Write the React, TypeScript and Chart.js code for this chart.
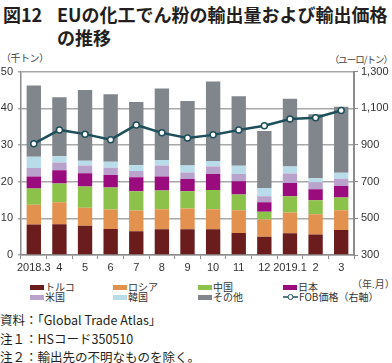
import React, { useEffect, useRef } from "react";
import { Chart, registerables } from "chart.js";

Chart.register(...registerables);

const categories = ["2018.3", "4", "5", "6", "7", "8", "9", "10", "11", "12", "2019.1", "2", "3"];
const turkey = [8.3, 8.4, 8.0, 7.1, 6.5, 7.0, 7.0, 7.0, 6.0, 5.0, 5.9, 5.6, 6.8];
const russia = [5.4, 6.0, 4.9, 5.3, 5.6, 5.5, 5.7, 5.5, 6.2, 4.7, 5.7, 5.5, 5.4];
const china = [4.4, 5.1, 5.8, 6.0, 5.3, 5.1, 4.7, 5.2, 4.3, 2.1, 4.4, 3.8, 3.5];
const japan = [3.3, 3.6, 3.6, 3.4, 3.8, 3.8, 3.3, 4.4, 3.6, 2.6, 3.6, 3.0, 3.1];
const usa = [2.3, 2.1, 2.1, 2.0, 1.7, 3.0, 1.8, 2.0, 2.0, 1.6, 2.6, 1.9, 2.0];
const korea = [3.1, 1.7, 1.3, 1.6, 1.6, 1.5, 1.9, 1.5, 2.2, 2.3, 1.9, 1.1, 1.6];
const others = [19.4, 16.1, 19.3, 18.4, 17.2, 19.5, 17.6, 21.7, 19.0, 15.5, 18.5, 17.5, 18.0];
const fobPrice = [907, 982, 959, 929, 1009, 966, 938, 955, 982, 1005, 1041, 1048, 1088];

const seriesNames = ["トルコ", "ロシア", "中国", "日本", "米国", "韓国", "その他"];
const seriesColors = ["#6b1c1c", "#e3914f", "#8cc24a", "#9a0b7d", "#b9a2cc", "#b9dcea", "#80868b"];
const lineName = "FOB価格（右軸）";
const lineColor = "#1e4f5b";

const tickFont = { family: "'Liberation Sans Narrow', 'Arial Narrow', 'Liberation Sans', sans-serif", size: 11 };
const jp = "'Noto Sans CJK JP', 'Noto Sans', sans-serif";

export default function App() {
  const ref = useRef<HTMLCanvasElement | null>(null);
  useEffect(() => {
    if (!ref.current) return;
    const series = [turkey, russia, china, japan, usa, korea, others];
    const chart = new Chart(ref.current, {
      type: "bar",
      data: {
        labels: categories,
        datasets: [
          {
            type: "line",
            label: lineName,
            data: fobPrice,
            yAxisID: "y1",
            borderColor: lineColor,
            borderWidth: 2.5,
            pointRadius: 3,
            pointBackgroundColor: "#ffffff",
            pointBorderColor: lineColor,
            pointBorderWidth: 1.5,
            tension: 0,
            order: 0,
          } as any,
          ...series.map((d, i) => ({
            type: "bar" as const,
            label: seriesNames[i],
            data: d,
            backgroundColor: seriesColors[i],
            yAxisID: "y",
            order: 1,
            categoryPercentage: 1,
            barPercentage: 0.56,
          })),
        ],
      },
      options: {
        animation: false,
        responsive: false,
        maintainAspectRatio: false,
        layout: { padding: { top: 9, left: 0, right: 0, bottom: 0 } },
        plugins: { legend: { display: false }, tooltip: { enabled: false } },
        scales: {
          x: {
            stacked: true,
            offset: true,
            grid: { display: true, drawOnChartArea: false, drawTicks: true, tickLength: 4, color: "#8c8c8c", offset: true },
            border: { color: "#8c8c8c", width: 1.5 },
            ticks: { font: tickFont, color: "#333", padding: 2, maxRotation: 0, autoSkip: false },
            afterFit: (s: any) => { s.height = 20; },
          },
          y: {
            stacked: true,
            position: "left",
            min: 0,
            max: 50,
            ticks: { stepSize: 10, font: tickFont, color: "#333", padding: 5 },
            grid: { color: "#a8a8a8", lineWidth: 1.5, drawTicks: true, tickLength: 3 },
            border: { color: "#8c8c8c", width: 1.5 },
            afterFit: (s: any) => { s.width = 21; },
          },
          y1: {
            position: "right",
            min: 300,
            max: 1300,
            ticks: {
              stepSize: 200,
              font: tickFont,
              color: "#333",
              padding: 3,
              callback: (v: any) => Number(v).toLocaleString("en-US"),
            },
            grid: { drawOnChartArea: false, drawTicks: true, tickLength: 4, color: "#8c8c8c" },
            border: { color: "#8c8c8c", width: 2 },
            afterFit: (s: any) => { s.width = 38; },
          },
        },
      },
    });
    return () => chart.destroy();
  }, []);

  const txt: React.CSSProperties = { position: "absolute", whiteSpace: "nowrap", fontFamily: jp, color: "#231f20" };
  const legendItems = [
    { x: 30, y: 287, i: 0 },
    { x: 113, y: 287, i: 1 },
    { x: 198, y: 287, i: 2 },
    { x: 283, y: 287, i: 3 },
    { x: 30, y: 297, i: 4 },
    { x: 113, y: 297, i: 5 },
    { x: 198, y: 297, i: 6 },
  ];

  return (
    <div style={{ position: "fixed", left: 0, top: 0, width: 392, height: 363, background: "#fff", overflow: "hidden" }}>
      <div style={{ ...txt, left: 3, top: 3, fontSize: 18, fontWeight: 700, lineHeight: "22px" }}>図12</div>
      <div style={{ ...txt, left: 57, top: 3, fontSize: 18, fontWeight: 700, lineHeight: "22px" }}>EUの化工でん粉の輸出量および輸出価格</div>
      <div style={{ ...txt, left: 57, top: 26, fontSize: 18, fontWeight: 700, lineHeight: "22px" }}>の推移</div>
      <div style={{ ...txt, left: 1, top: 52, fontSize: 10, lineHeight: "12px", color: "#444", letterSpacing: -0.5 }}>（千トン）</div>
      <div style={{ ...txt, right: 0, top: 53, fontSize: 9.5, lineHeight: "12px", color: "#444", letterSpacing: -1 }}>（ユーロ/トン）</div>
      <canvas ref={ref} width={392} height={215} style={{ position: "absolute", left: 0, top: 60, width: 392, height: 215 }} />
      <div style={{ ...txt, left: 352, top: 278, fontSize: 10, lineHeight: "12px", color: "#444" }}>（年.月）</div>
      {legendItems.map((it) => (
        <div key={it.i} style={{ position: "absolute", left: it.x, top: it.y - 6, height: 12, display: "flex", alignItems: "center" }}>
          <div style={{ width: 14, height: 5, background: seriesColors[it.i] }} />
          <span style={{ fontFamily: jp, fontSize: 10, lineHeight: "12px", color: "#333", marginLeft: 1 }}>{seriesNames[it.i]}</span>
        </div>
      ))}
      <div style={{ position: "absolute", left: 283, top: 291, height: 12, display: "flex", alignItems: "center" }}>
        <svg width={15} height={8}>
          <line x1={0} y1={4} x2={15} y2={4} stroke={lineColor} strokeWidth={1.5} />
          <circle cx={7.5} cy={4} r={2.5} fill="#fff" stroke={lineColor} strokeWidth={1} />
        </svg>
        <span style={{ fontFamily: jp, fontSize: 10, lineHeight: "12px", color: "#333", marginLeft: 1 }}>{lineName}</span>
      </div>
      <div style={{ ...txt, left: 0, top: 312, fontSize: 12.5, lineHeight: "16px" }}>資料：「Global Trade Atlas」</div>
      <div style={{ ...txt, left: 0, top: 331, fontSize: 12.5, lineHeight: "16px" }}>注１：HSコード350510</div>
      <div style={{ ...txt, left: 0, top: 349, fontSize: 12.5, lineHeight: "16px" }}>注２：輸出先の不明なものを除く。</div>
    </div>
  );
}
